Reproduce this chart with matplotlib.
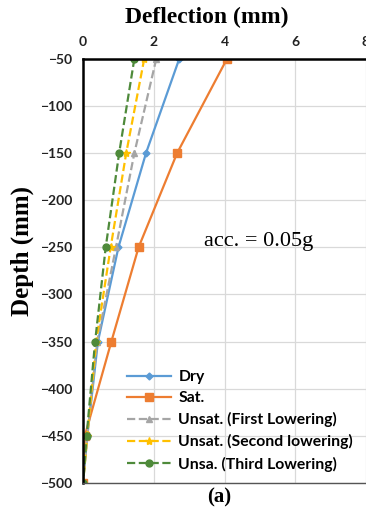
import matplotlib.pyplot as plt

depth = [-50, -150, -250, -350, -450, -500]
dry = [2.72, 1.78, 1.00, 0.42, 0.12, 0.0]
sat = [4.07, 2.66, 1.57, 0.80, 0.05, 0.0]
unsat1 = [2.07, 1.45, 0.93, 0.40, 0.12, 0.0]
unsat2 = [1.73, 1.22, 0.78, 0.37, 0.12, 0.0]
unsat3 = [1.45, 1.02, 0.64, 0.34, 0.10, 0.0]
x_ticks = [0, 2, 4, 6, 8]
y_ticks = [-50, -100, -150, -200, -250, -300, -350, -400, -450, -500]

fig = plt.figure(figsize=(3.66, 5.11), dpi=100)
ax = fig.add_axes([0.227, 0.055, 0.773, 0.830])

ax.plot(dry, depth, color='#5B9BD5', marker='D', ms=3.5, lw=1.6, label='Dry')
ax.plot(sat, depth, color='#ED7D31', marker='s', ms=6, lw=1.6, label='Sat.')
ax.plot(unsat1, depth, color='#A5A5A5', marker='^', ms=5, lw=1.6, ls='--',
        label='Unsat. (First Lowering)')
ax.plot(unsat2, depth, color='#FFC000', marker='*', ms=6, lw=1.6, ls='--',
        label='Unsat. (Second lowering)')
ax.plot(unsat3, depth, color='#4E8A3A', marker='o', ms=5, lw=1.6, ls='--',
        label='Unsa. (Third Lowering)')

ax.set_xlim(0, 8)
ax.set_ylim(-500, -50)
ax.set_xticks(x_ticks)
ax.set_yticks(y_ticks)
ax.xaxis.tick_top()
ax.tick_params(length=0, labelsize=10, pad=8)
for lab in ax.get_xticklabels() + ax.get_yticklabels():
    lab.set_fontweight('bold')
    lab.set_family('Lato')
    lab.set_color('#222222')
ax.grid(True, color='#D9D9D9', lw=0.9)
ax.set_axisbelow(True)
for s in ['top', 'left']:
    ax.spines[s].set_linewidth(1.8)
ax.spines['bottom'].set_linewidth(1.0)
ax.spines['bottom'].set_color('#555555')
ax.spines['right'].set_visible(False)

fig.text(0.566, 0.966, 'Deflection (mm)', ha='center', va='center',
         family='Liberation Serif', fontweight='bold', fontsize=17)
fig.text(0.06, 0.509, 'Depth (mm)', ha='center', va='center', rotation=90,
         family='Liberation Serif', fontweight='bold', fontsize=18)
fig.text(0.60, 0.027, '(a)', ha='center', va='center',
         family='Liberation Serif', fontweight='bold', fontsize=15)
ax.text(4.95, -244, 'acc. = 0.05g', ha='center', va='center',
        family='Liberation Serif', fontsize=16)

ax.legend(loc='lower left', bbox_to_anchor=(0.134, 0.012), frameon=False,
          handlelength=2.8, handletextpad=0.45, labelspacing=0.45,
          prop={'family': 'Lato', 'weight': 'bold', 'size': 11.3},
          borderaxespad=0)

fig.savefig('out.png', dpi=100)
